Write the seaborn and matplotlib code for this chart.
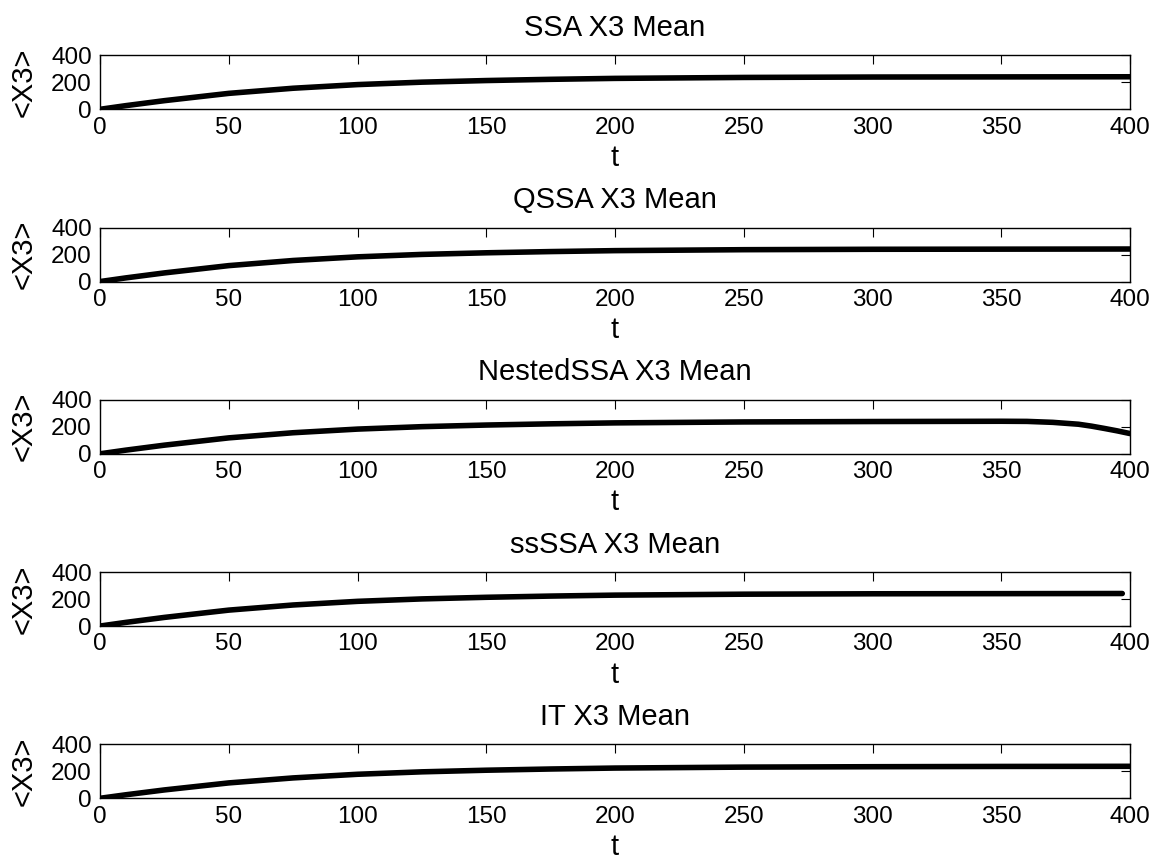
import numpy as np
import pandas as pd
import matplotlib
matplotlib.use("Agg")
import matplotlib.pyplot as plt
import seaborn as sns

# mean trajectories
t = [0, 10, 25, 50, 75, 100, 125, 150, 175, 200, 250, 300, 350, 400]
ssa = [0, 27, 64, 118, 156, 183, 201, 213, 222, 229, 236, 239, 240, 241]
qssa = [0, 27, 64, 118, 156, 183, 201, 213, 222, 229, 236, 239, 240, 241]
it = [0, 26, 62, 114, 151, 178, 196, 208, 217, 224, 231, 234, 236, 237]

t_nested = [0, 10, 25, 50, 75, 100, 125, 150, 175, 200, 250, 300, 350, 360,
            370, 380, 385, 390, 395, 400]
nested = [0, 27, 64, 118, 156, 183, 201, 213, 222, 229, 236, 239, 241, 240,
          233, 219, 205, 188, 170, 150]

t_ss = [0, 10, 25, 50, 75, 100, 125, 150, 175, 200, 250, 300, 350, 397]
ss = [0, 27, 64, 118, 156, 183, 201, 213, 222, 229, 236, 239, 240, 241]

titles = ["SSA X3 Mean", "QSSA X3 Mean", "NestedSSA X3 Mean", "ssSSA X3 Mean", "IT X3 Mean"]
series = [(t, ssa), (t, qssa), (t_nested, nested), (t_ss, ss), (t, it)]

sns.set_theme(style="white")
plt.rcParams['font.family'] = ['Liberation Sans', 'DejaVu Sans']
plt.rcParams['text.color'] = 'black'
plt.rcParams['axes.labelcolor'] = 'black'
tick_fs = 17.5
label_fs = 21

fig = plt.figure(figsize=(11.54, 8.64), dpi=100)
W, H = 1154, 864

for i, (title, (tx, ys)) in enumerate(zip(titles, series)):
    top = 55.3 + i * 172.25
    ax = fig.add_axes([100 / W, 1 - (top + 54) / H, 1030 / W, 54 / H])
    df = pd.DataFrame({'t': tx, 'X3': ys})
    sns.lineplot(data=df, x='t', y='X3', ax=ax, color='black', linewidth=4)
    ax.set_xlim(0, 400)
    ax.set_ylim(0, 400)
    ax.set_xticks(range(0, 401, 50))
    ax.set_yticks([0, 200, 400])
    ax.tick_params(direction='in', length=6.5, width=0.8, top=True, right=True,
                   labelsize=tick_fs, colors='black')
    ax.tick_params(axis='x', pad=5.3)
    ax.tick_params(axis='y', pad=5.8)
    for s in ax.spines.values():
        s.set_color('black')
        s.set_linewidth(1.0)
    ax.set_title(title, fontsize=label_fs, pad=14, color='black')
    ax.set_xlabel('t', fontsize=label_fs, labelpad=3.7)
    ax.set_ylabel('<X3>', fontsize=label_fs, labelpad=9.5)

fig.savefig('out.png', dpi=100, facecolor='white')
